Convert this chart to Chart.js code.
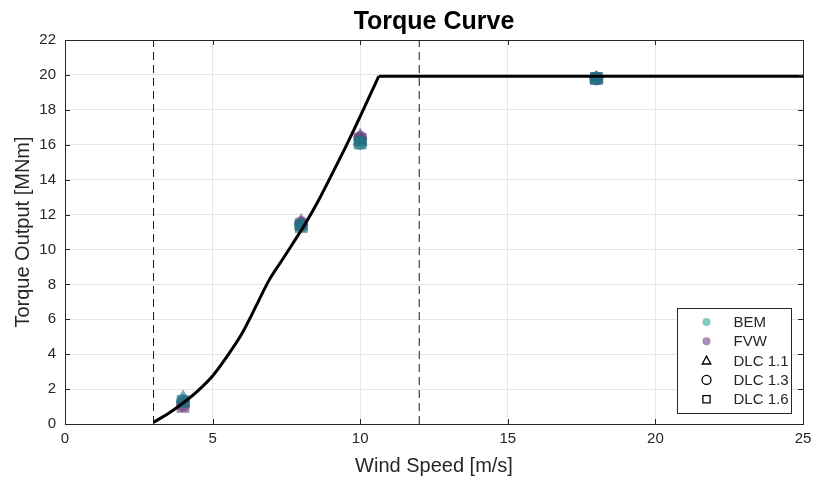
<!DOCTYPE html>
<html>
<head>
<meta charset="utf-8">
<script src="https://cdn.jsdelivr.net/npm/chart.js@4.4.1/dist/chart.umd.min.js"></script>
<style>
  html, body { margin: 0; padding: 0; background: #fff; }
  #wrap { width: 814px; height: 478px; }
</style>
</head>
<body>
<div id="wrap"><canvas id="torqueChart" width="814" height="478"></canvas></div>
<script>
// Steady-state torque curve [m/s] -> [MNm], below rated and above rated
const rampSpeed  = [3.0, 3.5, 4.0, 4.5, 5.0, 5.5, 6.0, 6.5, 6.9, 7.3, 7.7, 8.15, 8.6, 9.1, 9.5, 9.8, 10.2, 10.63];
const rampTorque = [0.1, 0.6, 1.2, 1.9, 2.75, 3.9, 5.2, 6.85, 8.2, 9.25, 10.3, 11.5, 12.85, 14.5, 15.85, 16.9, 18.35, 19.93];
const ratedSpeed  = [10.63, 25];
const ratedTorque = [19.93, 19.93];

// Operating region limits (dashed)
const regionSpeeds = [3, 12];

// Simulated load cases
const caseSpeeds = [4, 8, 10, 18];
const bemDlc11 = [1.5, 11.4, 16.2, 19.8];
const bemDlc13 = [1.3, 11.4, 16.1, 19.8];
const bemDlc16 = [1.3, 11.3, 16.1, 19.8];
const fvwDlc11 = [1.2, 11.6, 16.5, 19.8];
const fvwDlc13 = [1.1, 11.5, 16.4, 19.8];
const fvwDlc16 = [1.0, 11.4, 16.3, 19.8];

const xTicks = [0, 5, 10, 15, 20, 25];
const yTicks = [0, 2, 4, 6, 8, 10, 12, 14, 16, 18, 20, 22];

const legendNames = ['BEM', 'FVW', 'DLC 1.1', 'DLC 1.3', 'DLC 1.6'];

const AXIS_COLOR = '#262626';
const GRID_COLOR = '#e6e6e6';
const FONT = '"Liberation Sans", Arial, Helvetica, sans-serif';
const BEM_FILL = 'rgba(30,115,130,0.6)';
const FVW_FILL = 'rgba(100,50,120,0.55)';

function toPoints(xs, ys) {
    return xs.map((x, i) => ({ x: x, y: ys[i] }));
}

function curveDataset(label, xs, ys) {
    return {
        label: label,
        data: toPoints(xs, ys),
        showLine: true,
        borderColor: '#000',
        borderWidth: 3,
        pointRadius: 0,
        cubicInterpolationMode: 'monotone'
    };
}

function caseDataset(label, values, fill, style, radius) {
    return {
        label: label,
        data: toPoints(caseSpeeds, values),
        pointStyle: style,
        pointRadius: radius,
        pointBackgroundColor: fill,
        pointBorderWidth: 0,
        pointBorderColor: 'rgba(0,0,0,0)',
        showLine: false
    };
}

function verticalLine(x) {
    return {
        label: 'limit ' + x,
        data: [{ x: x, y: 0 }, { x: x, y: 22 }],
        showLine: true,
        borderColor: '#1a1a1a',
        borderWidth: 1,
        borderDash: [8, 5],
        pointRadius: 0
    };
}

// Simple marker path for the legend
function drawMarker(ctx, style, x, y, r) {
    ctx.beginPath();
    if (style === 'triangle') {
        ctx.moveTo(x, y - r);
        ctx.lineTo(x + r * 0.95, y + r * 0.75);
        ctx.lineTo(x - r * 0.95, y + r * 0.75);
        ctx.closePath();
    } else if (style === 'rect') {
        ctx.rect(x - r * 0.8, y - r * 0.8, r * 1.6, r * 1.6);
    } else {
        ctx.arc(x, y, r, 0, Math.PI * 2);
    }
}

// Box, inner tick marks and the legend, drawn over the plot
const axesBoxPlugin = {
    id: 'axesBox',
    afterDraw(chart) {
        const ctx = chart.ctx;
        const a = chart.chartArea;
        const xs = chart.scales.x, ys = chart.scales.y;
        ctx.save();
        ctx.strokeStyle = AXIS_COLOR;
        ctx.lineWidth = 1;
        ctx.beginPath();
        xTicks.forEach(t => {
            const px = Math.round(xs.getPixelForValue(t)) + 0.5;
            ctx.moveTo(px, a.bottom); ctx.lineTo(px, a.bottom - 5);
            ctx.moveTo(px, a.top); ctx.lineTo(px, a.top + 5);
        });
        yTicks.forEach(t => {
            const py = Math.round(ys.getPixelForValue(t)) + 0.5;
            ctx.moveTo(a.left, py); ctx.lineTo(a.left + 5, py);
            ctx.moveTo(a.right, py); ctx.lineTo(a.right - 5, py);
        });
        ctx.stroke();
        ctx.strokeRect(Math.round(a.left) + 0.5, Math.round(a.top) + 0.5,
            Math.round(a.right - a.left), Math.round(a.bottom - a.top));

        // legend
        const w = 114, h = 105;
        const lx = Math.round(a.right - 12 - w) + 0.5;
        const ly = Math.round(a.bottom - 11 - h) + 0.5;
        ctx.fillStyle = '#fff';
        ctx.fillRect(lx, ly, w, h);
        ctx.strokeStyle = AXIS_COLOR;
        ctx.strokeRect(lx, ly, w, h);
        ctx.font = '15px ' + FONT;
        ctx.textBaseline = 'middle';
        ctx.textAlign = 'left';
        const markerStyles = ['circle', 'circle', 'triangle', 'circle', 'rect'];
        const markerFills = ['#80cbc4', '#a98abb', null, null, null];
        legendNames.forEach((name, i) => {
            const ry = ly + 13.5 + i * 19.3;
            const mx = lx + 29;
            if (markerFills[i]) {
                drawMarker(ctx, markerStyles[i], mx, ry, 4);
                ctx.fillStyle = markerFills[i];
                ctx.fill();
            } else {
                drawMarker(ctx, markerStyles[i], mx, ry, 4.5);
                ctx.strokeStyle = '#000';
                ctx.lineWidth = 1.3;
                ctx.stroke();
            }
            ctx.fillStyle = AXIS_COLOR;
            ctx.fillText(name, lx + 56, ry + 1);
        });
        ctx.restore();
    }
};

const ctx = document.getElementById('torqueChart').getContext('2d');
new Chart(ctx, {
    type: 'scatter',
    data: {
        datasets: [
            curveDataset('Torque curve', rampSpeed, rampTorque),
            curveDataset('Rated torque', ratedSpeed, ratedTorque),
            caseDataset('BEM DLC 1.1', bemDlc11, BEM_FILL, 'triangle', 8.5),
            caseDataset('BEM DLC 1.3', bemDlc13, BEM_FILL, 'circle', 7),
            caseDataset('BEM DLC 1.6', bemDlc16, BEM_FILL, 'rect', 9),
            caseDataset('FVW DLC 1.1', fvwDlc11, FVW_FILL, 'triangle', 8.5),
            caseDataset('FVW DLC 1.3', fvwDlc13, FVW_FILL, 'circle', 7),
            caseDataset('FVW DLC 1.6', fvwDlc16, FVW_FILL, 'rect', 9),
            verticalLine(regionSpeeds[0]),
            verticalLine(regionSpeeds[1])
        ]
    },
    options: {
        responsive: false,
        animation: false,
        layout: { padding: { left: 0, right: 11, top: 0, bottom: 0 } },
        plugins: {
            legend: { display: false },
            tooltip: { enabled: false },
            title: {
                display: true,
                fullSize: false,
                text: 'Torque Curve',
                color: '#000',
                font: { family: FONT, size: 25, weight: 'bold' },
                padding: { top: 7, bottom: 3 }
            }
        },
        scales: {
            x: {
                type: 'linear',
                min: 0,
                max: 25,
                afterFit: s => { s.height = 54; s.paddingLeft = 0; s.paddingRight = 0; },
                afterBuildTicks: s => { s.ticks = xTicks.map(v => ({ value: v })); },
                ticks: { color: AXIS_COLOR, font: { family: FONT, size: 15 }, padding: 6 },
                grid: { color: GRID_COLOR, drawTicks: false },
                border: { display: false },
                title: {
                    display: true,
                    text: 'Wind Speed [m/s]',
                    color: AXIS_COLOR,
                    font: { family: FONT, size: 20 },
                    padding: { top: 0, bottom: 0 }
                }
            },
            y: {
                type: 'linear',
                min: 0,
                max: 22,
                afterFit: s => { s.width = 65; s.paddingTop = 0; s.paddingBottom = 0; },
                afterBuildTicks: s => { s.ticks = yTicks.map(v => ({ value: v })); },
                ticks: { color: AXIS_COLOR, font: { family: FONT, size: 15 }, padding: 9 },
                grid: { color: GRID_COLOR, drawTicks: false },
                border: { display: false },
                title: {
                    display: true,
                    text: 'Torque Output [MNm]',
                    color: AXIS_COLOR,
                    font: { family: FONT, size: 20 },
                    padding: { top: 11, bottom: 0 }
                }
            }
        }
    },
    plugins: [axesBoxPlugin]
});
</script>
</body>
</html>
